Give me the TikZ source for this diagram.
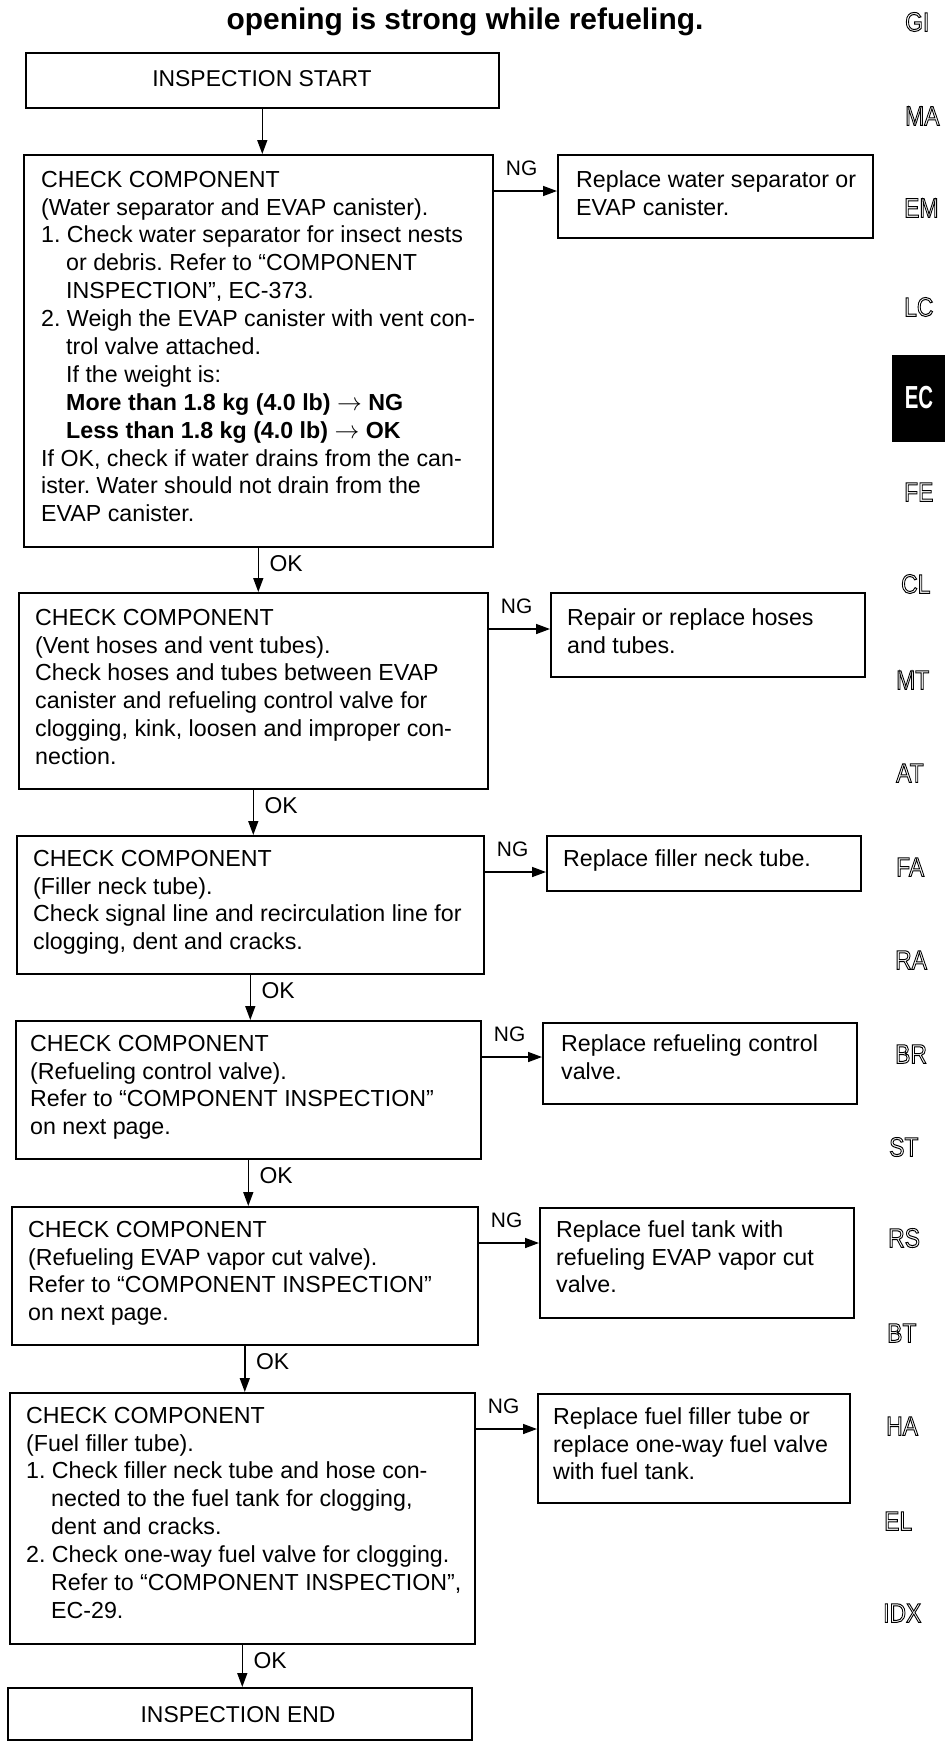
\documentclass[tikz,border=0pt]{standalone}
\usepackage{fontspec}
\setmainfont{Liberation Sans}
\usepackage{graphicx}
\usetikzlibrary{arrows.meta}
\newcommand{\outl}[1]{\special{pdf:literal direct 1 Tr 1 w}#1\special{pdf:literal direct 0 Tr}}
\newcommand{\ind}{\hspace*{25bp}}
\frenchspacing
\tikzset{
  box/.style={draw, line width=1.6bp, inner sep=0pt, anchor=north west},
  txt/.style={inner sep=0pt, anchor=north west, align=left, font=\fontsize{23.3}{28}\selectfont\frenchspacing},
  arr/.style={line width=1.5bp, -{Triangle[length=14bp,width=10bp]}},
  nglab/.style={inner sep=0pt, font=\fontsize{21}{24}\selectfont},
  oklab/.style={inner sep=0pt, anchor=west, font=\fontsize{23}{26}\selectfont},
  tab/.style={inner sep=0pt, anchor=west, font=\fontsize{27}{30}\selectfont},
}
\begin{document}
\begin{tikzpicture}[x=1bp, y=-1bp]
\useasboundingbox (0,0) rectangle (945,1741);
% title
\node[inner sep=0pt, anchor=base, font=\bfseries\fontsize{30}{36}\selectfont] (title) at (465,29) {opening is strong while refueling.};
% boxes
\node[box, minimum width=473bp, minimum height=55bp] (S) at (25,52) {};
\node[box, minimum width=469bp, minimum height=392bp] (B1) at (23,154) {};
\node[box, minimum width=315bp, minimum height=83bp] (R1) at (557,154) {};
\node[box, minimum width=469bp, minimum height=196bp] (B2) at (18,592) {};
\node[box, minimum width=314bp, minimum height=84bp] (R2) at (550,592) {};
\node[box, minimum width=467bp, minimum height=138bp] (B3) at (16,835) {};
\node[box, minimum width=314bp, minimum height=55bp] (R3) at (546,835) {};
\node[box, minimum width=465bp, minimum height=138bp] (B4) at (15,1020) {};
\node[box, minimum width=314bp, minimum height=81bp] (R4) at (542,1022) {};
\node[box, minimum width=466bp, minimum height=138bp] (B5) at (11,1206) {};
\node[box, minimum width=314bp, minimum height=110bp] (R5) at (539,1207) {};
\node[box, minimum width=465bp, minimum height=251bp] (B6) at (9,1392) {};
\node[box, minimum width=312bp, minimum height=109bp] (R6) at (537,1393) {};
\node[box, minimum width=464bp, minimum height=52bp] (E) at (7,1687) {};
% texts
\node[inner sep=0pt, anchor=base, font=\fontsize{23}{28}\selectfont] (tS) at (262,86) {INSPECTION START};
\node[inner sep=0pt, anchor=base, font=\fontsize{23}{28}\selectfont] (tE) at (238,1722) {INSPECTION END};
\node[txt] (t1) at (41,167.4) {\strut CHECK COMPONENT\\
(Water separator and EVAP canister).\\
1. Check water separator for insect nests\\
\ind or debris. Refer to “COMPONENT\\
\ind INSPECTION”, EC-373.\\
2. Weigh the EVAP canister with vent con-\\
\ind trol valve attached.\\
\ind If the weight is:\\
\ind\textbf{More than 1.8 kg (4.0 lb) $\rightarrow$ NG}\\
\ind\textbf{Less than 1.8 kg (4.0 lb) $\rightarrow$ OK}\\
If OK, check if water drains from the can-\\
ister. Water should not drain from the\\
EVAP canister.};
\node[txt] (u1) at (576,167.4) {\strut Replace water separator or\\EVAP canister.};
\node[txt] (t2) at (35,605.4) {\strut CHECK COMPONENT\\
(Vent hoses and vent tubes).\\
Check hoses and tubes between EVAP\\
canister and refueling control valve for\\
clogging, kink, loosen and improper con-\\
nection.};
\node[txt] (u2) at (567,605.4) {\strut Repair or replace hoses\\and tubes.};
\node[txt] (t3) at (33,846.4) {\strut CHECK COMPONENT\\
(Filler neck tube).\\
Check signal line and recirculation line for\\
clogging, dent and cracks.};
\node[txt] (u3) at (563,846.4) {\strut Replace filler neck tube.};
\node[txt] (t4) at (30,1031.4) {\strut CHECK COMPONENT\\
(Refueling control valve).\\
Refer to “COMPONENT INSPECTION”\\
on next page.};
\node[txt] (u4) at (561,1031.4) {\strut Replace refueling control\\valve.};
\node[txt] (t5) at (28,1217.4) {\strut CHECK COMPONENT\\
(Refueling EVAP vapor cut valve).\\
Refer to “COMPONENT INSPECTION”\\
on next page.};
\node[txt] (u5) at (556,1217.4) {\strut Replace fuel tank with\\refueling EVAP vapor cut\\valve.};
\node[txt] (t6) at (26,1403.4) {\strut CHECK COMPONENT\\
(Fuel filler tube).\\
1. Check filler neck tube and hose con-\\
\ind nected to the fuel tank for clogging,\\
\ind dent and cracks.\\
2. Check one-way fuel valve for clogging.\\
\ind Refer to “COMPONENT INSPECTION”,\\
\ind EC-29.};
\node[txt] (u6) at (553,1404.4) {\strut Replace fuel filler tube or\\replace one-way fuel valve\\with fuel tank.};
% OK arrows
\draw[arr] (S.south) -- (S.south |- B1.north);
\foreach \a/\b/\n in {B1/B2/1,B2/B3/2,B3/B4/3,B4/B5/4,B5/B6/5,B6/E/6} {
  \draw[arr] (\a.south) -- (\a.south |- \b.north);
  \node[oklab] (ok\n) at ([xshift=11bp,yshift=-16bp]\a.south) {OK};
}
% NG arrows
\foreach \a/\b/\n in {B1/R1/1,B2/R2/2,B3/R3/3,B4/R4/4,B5/R5/5,B6/R6/6} {
  \coordinate (ng\n s) at ([yshift=-37bp]\a.north east);
  \draw[arr] (ng\n s) -- (ng\n s -| \b.west);
  \node[nglab] (ng\n) at ([xshift=28bp,yshift=-14bp]\a.north east) {NG};
}
% side tabs
\node[fill=black, inner sep=0pt, minimum width=53bp, minimum height=87bp, anchor=north west] (ecbox) at (892,355) {};
\node[inner sep=0pt, text=white, font=\bfseries\fontsize{32}{34}\selectfont] (ec) at (919,398) {\scalebox{0.64}[1]{EC}};
\foreach \t/\x/\y [count=\i] in {GI/905/22, MA/905/116, EM/904/208, LC/904/307, FE/904/492, CL/901/584, MT/896/680, AT/896/773, FA/896/867, RA/895/960, BR/895/1054, ST/889/1147, RS/888/1238, BT/887/1333, HA/886/1426, EL/884/1521, IDX/883/1613} {
  \node[tab] (tab\i) at (\x,\y) {\scalebox{0.85}[1]{\outl{\t}}};
}
\end{tikzpicture}
\end{document}
